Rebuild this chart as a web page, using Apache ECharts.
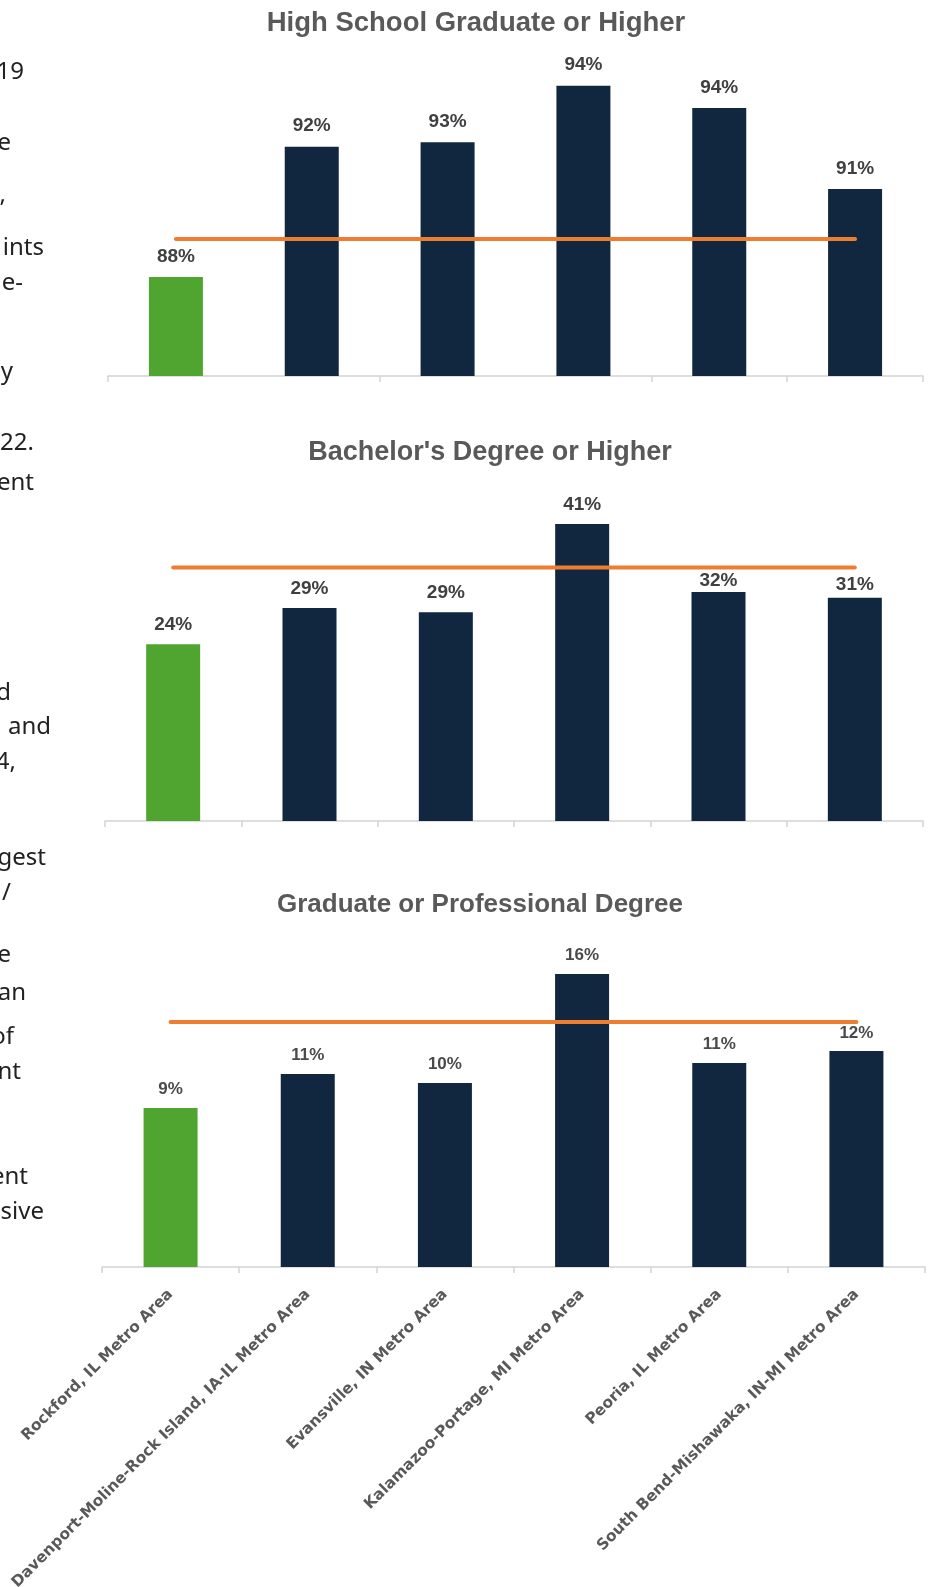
<!DOCTYPE html>
<html><head><meta charset="utf-8">
<script src="https://cdn.jsdelivr.net/npm/echarts/dist/echarts.min.js"></script>
<style>html,body{margin:0;padding:0;background:#fff}#c{width:932px;height:1587px}</style>
</head><body><div id="c"></div>
<script>
// ---- data ----
const categories = ['Rockford, IL Metro Area', 'Davenport-Moline-Rock Island, IA-IL Metro Area', 'Evansville, IN Metro Area', 'Kalamazoo-Portage, MI Metro Area', 'Peoria, IL Metro Area', 'South Bend-Mishawaka, IN-MI Metro Area'];
const chartTitles = ['High School Graduate or Higher', "Bachelor's Degree or Higher", 'Graduate or Professional Degree'];
const highSchool = [88.2, 92.42, 92.56, 94.39, 93.67, 91.05];
const bachelors = [24.4, 29.4, 28.8, 41.0, 31.6, 30.8];
const graduate = [8.74, 10.6, 10.11, 16.1, 11.21, 11.87];
const benchmark = [89.43, 35.0, 13.46];
const yMin = [85, 0, 0];
const yMax = [96, 45, 18];
// clipped text of the neighbouring column (left edge)
const sideText = ['19', 'e', ',', 'ints', 'e-', 'y', '22.', 'ent', 'd', 'and', '4,', 'gest', '/', 'e', 'an', 'of', 'nt', 'ent', 'sive'];

// ---- layout ----
const seriesData = [highSchool, bachelors, graduate];
const grids = [
  {left: 108, width: 815, top: 36, height: 340},
  {left: 105, width: 818, top: 495, height: 326},
  {left: 102, width: 823, top: 939.4, height: 327.6}
];
const titlePos = [[476, 23, 27.5], [490, 453, 27], [480, 905, 26]];
const sidePos = [[24,72],[11,143],[6,195],[44,248],[23,283],[13,372],[34,443],[34,483],[11,693],[51,727],[16,762],[46,858],[11,893],[11,955],[26,993],[14,1037],[21,1072],[28,1177],[44,1212]];
const labelFont = [[19, '#404040', 11], [19, '#404040', 10], [17, '#4a4a4a', 10]];
// per-chart label distance overrides (labels nudged off the benchmark line)
const labelNudge = [{}, {4: 2, 5: 4}, {5: 9}];
const NAVY = '#10273F', GREEN = '#4FA52F', ORANGE = '#ED7D31';

const option = {
  backgroundColor: '#fff',
  animation: false,
  grid: grids.map(g => Object.assign({outerBoundsMode: 'none', containLabel: false}, g)),
  xAxis: grids.map((g, i) => ({
    type: 'category', gridIndex: i, data: categories, boundaryGap: true,
    axisLine: {show: true, lineStyle: {color: '#d3d3d3', width: 1.5}},
    axisTick: {show: true, interval: i === 0 ? 1 : 0, length: 6, lineStyle: {color: '#d3d3d3', width: 1.5}},
    axisLabel: {show: i === 2, rotate: 45, margin: 25, interval: 0, color: '#595959',
      fontFamily: 'DejaVu Sans', fontWeight: 'bold', fontSize: 15.4},
    splitLine: {show: false}
  })),
  yAxis: grids.map((g, i) => ({
    type: 'value', gridIndex: i, min: yMin[i], max: yMax[i], show: false, splitLine: {show: false}
  })),
  series: [],
  graphic: []
};

seriesData.forEach((arr, i) => {
  option.series.push({
    type: 'bar', xAxisIndex: i, yAxisIndex: i, barWidth: 54, z: 2,
    data: arr.map((v, j) => {
      const d = {value: v, itemStyle: {color: j === 0 ? GREEN : NAVY}};
      if (labelNudge[i][j] !== undefined) d.label = {distance: labelNudge[i][j]};
      return d;
    }),
    label: {show: true, position: 'top', distance: labelFont[i][2],
      formatter: p => Math.round(p.value) + '%',
      fontFamily: 'Liberation Sans', fontWeight: 'bold', fontSize: labelFont[i][0], color: labelFont[i][1]}
  });
  option.series.push({
    type: 'line', xAxisIndex: i, yAxisIndex: i, z: 5, symbol: 'none', silent: true,
    data: categories.map(() => benchmark[i]),
    lineStyle: {color: ORANGE, width: 4, cap: 'round'}
  });
  option.graphic.push({
    type: 'text', x: titlePos[i][0], y: titlePos[i][1],
    style: {text: chartTitles[i], align: 'center', verticalAlign: 'middle',
      font: 'bold ' + titlePos[i][2] + 'px "Liberation Sans", Arial, sans-serif', fill: '#595959'}
  });
});

sideText.forEach((t, k) => {
  option.graphic.push({
    type: 'text', x: sidePos[k][0], y: sidePos[k][1],
    style: {text: t, align: 'right', verticalAlign: 'middle',
      font: '24px "Noto Sans", sans-serif', fill: '#222'}
  });
});

const chart = echarts.init(document.getElementById('c'), null, {renderer: 'canvas'});
chart.setOption(option);
</script>
</body></html>
